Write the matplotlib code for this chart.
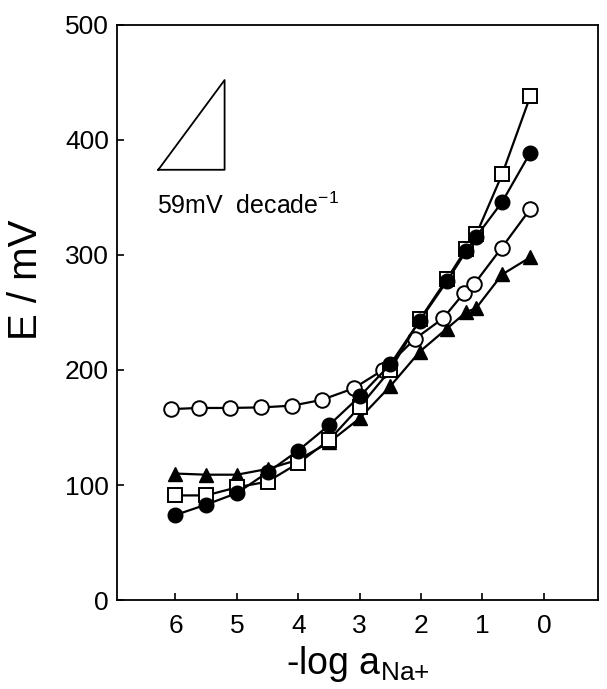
import numpy as np
import matplotlib
matplotlib.use("Agg")
import matplotlib.pyplot as plt

plt.rcParams['font.family'] = ['Liberation Sans', 'DejaVu Sans']
plt.rcParams['mathtext.fontset'] = 'custom'
plt.rcParams['mathtext.rm'] = 'Liberation Sans'
plt.rcParams['mathtext.it'] = 'Liberation Sans:italic'

# -log a(Na+) values
x_main = [6.0, 5.5, 5.0, 4.5, 4.0, 3.5, 3.0, 2.5, 2.02, 1.58, 1.27, 1.1, 0.68, 0.22]
x_open = [6.08, 5.62, 5.12, 4.6, 4.1, 3.62, 3.1, 2.62, 2.1, 1.64, 1.3, 1.13, 0.69, 0.22]

# E / mV
e_square = [91, 91, 98, 103, 119, 139, 168, 200, 244, 279, 305, 318, 370, 438]
e_filled = [74, 83, 93, 111, 130, 152, 177, 205, 243, 277, 303, 316, 346, 389]
e_triangle = [110, 109, 109, 114, 122, 137, 158, 186, 216, 236, 250, 254, 283, 298]
e_open = [166, 167, 167, 167.5, 169, 174, 184, 200, 227, 245, 267, 275, 306, 340]

# slope guide triangle (59 mV / decade)
guide_x = [6.28, 5.20, 5.20, 6.28]
guide_y = [374, 452, 374, 374]

fig = plt.figure(figsize=(6.07, 6.89), dpi=100)
ax = fig.add_axes([0.193, 0.129, 0.792, 0.835])

lw = 1.6
ax.plot(x_main, e_triangle, color='k', lw=lw, marker='^', ms=10,
        mfc='k', mec='k', zorder=3)
ax.plot(x_open, e_open, color='k', lw=lw, marker='o', ms=10.5,
        mfc='white', mec='k', mew=1.4, zorder=4)
ax.plot(x_main, e_square, color='k', lw=lw, marker='s', ms=9.5,
        mfc='white', mec='k', mew=1.4, zorder=5)
ax.plot(x_main, e_filled, color='k', lw=lw, marker='o', ms=10.5,
        mfc='k', mec='k', zorder=6)

ax.plot(guide_x, guide_y, color='k', lw=1.3)
ax.text(6.30, 343, "59mV  decade$^{-1}$", fontsize=18, va='center', ha='left')

ax.set_xlim(6.95, -0.88)
ax.set_ylim(0, 500)
ax.set_xticks([6, 5, 4, 3, 2, 1, 0])
ax.set_yticks([0, 100, 200, 300, 400, 500])

for s in ax.spines.values():
    s.set_linewidth(1.3)
ax.tick_params(direction='in', length=5, width=1.2, labelsize=19)
ax.tick_params(axis='x', pad=10)
ax.tick_params(axis='y', pad=6)

ax.set_xlabel("-log a$_{\\mathrm{Na{+}}}$", fontsize=27, labelpad=4)
ax.set_ylabel("E / mV", fontsize=29)
ax.yaxis.set_label_coords(-0.15, 0.557)

fig.savefig("out.png", dpi=100)
